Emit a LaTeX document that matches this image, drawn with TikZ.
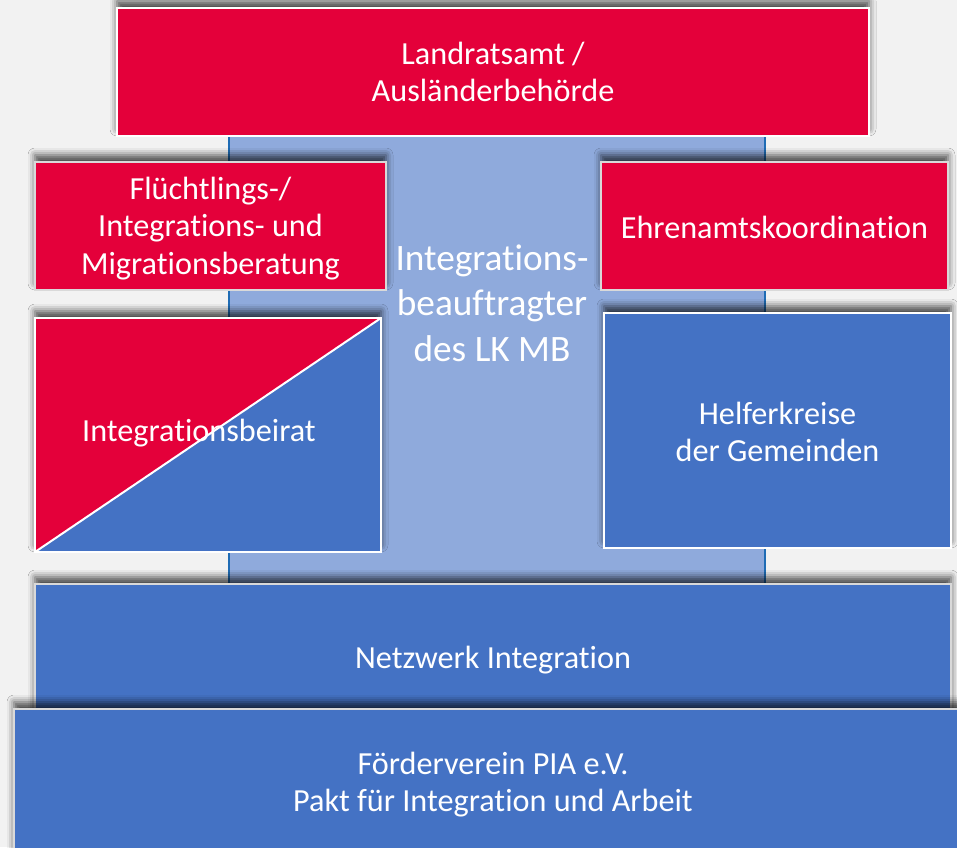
\documentclass[tikz,border=0pt]{standalone}
\usepackage{fontspec}
\setmainfont[Ligatures=CommonOff]{Carlito}
\usetikzlibrary{shadows.blur}
\definecolor{redbox}{HTML}{E4003A}
\definecolor{bluebox}{HTML}{4472C4}
\definecolor{lightbl}{HTML}{8FAADC}
\definecolor{bgc}{HTML}{F2F2F2}
\definecolor{edgebl}{HTML}{1F6CB5}
\definecolor{bordergray}{HTML}{D9D9D9}
\begin{document}
\begin{tikzpicture}[x=1pt,y=-1pt,
  box/.style={inner sep=0pt, outer sep=0pt, text=white, align=center,
    font=\fontsize{32.2}{37.5}\selectfont, line width=2pt},
  shad/.style={blur shadow={shadow xshift=0pt, shadow yshift=7pt,
    shadow blur radius=7pt, shadow opacity=70}},
  lbl/.style={text=white, align=center, inner sep=0pt,
    font=\fontsize{32.2}{37.5}\selectfont},
  midtext/.style={text=white, align=center, inner sep=0pt,
    font=\fontsize{37.3}{45.5}\selectfont}]
\path[fill=bgc] (0,0) rectangle (957,847);
\useasboundingbox (0,0) rectangle (957,847);
% central light-blue column
\node[fill=lightbl, draw=none, inner sep=0pt, outer sep=0pt,
  minimum width=536pt, minimum height=470pt] (mid) at (497,365) {};
\draw[edgebl, line width=2.5pt] (mid.north west) -- (mid.south west);
\draw[edgebl, line width=2.5pt] (mid.north east) -- (mid.south east);
% top box
\node[box, shad, fill=redbox, draw=white, minimum width=752pt,
  minimum height=128pt] (lra) at (493,72) {};
\node[lbl] (lratxt) at (493,72) {Landratsamt /\\Ausländerbehörde};
% left red box
\node[box, shad, fill=redbox, draw=bordergray, minimum width=351pt,
  minimum height=128pt] (fib) at (210.5,226) {};
\node[lbl] (fibtxt) at (210.5,228.5)
  {Flüchtlings-/\\Integrations- und\\Migrationsberatung};
% right red box
\node[box, shad, fill=redbox, draw=bordergray, minimum width=347pt,
  minimum height=128pt] (eak) at (774.5,226) {};
\node[lbl] (eaktxt) at (774.5,227.5) {Ehrenamtskoordination};
% Integrationsbeirat (split)
\node[box, shad, fill=bluebox, draw=white, minimum width=346pt,
  minimum height=234pt] (beirat) at (208,435) {};
\fill[redbox] (beirat.north west) -- (beirat.north east) -- (beirat.south west) -- cycle;
\draw[white, line width=2pt] (beirat.south west) -- (beirat.north east);
\draw[white, line width=2pt] (beirat.north west) rectangle (beirat.south east);
\node[lbl] (beirattxt) at (199,433) {Integrationsbeirat};
% Helferkreise
\node[box, shad, fill=bluebox, draw=white, minimum width=347pt,
  minimum height=235pt] (helfer) at (777.5,430.5) {};
\node[lbl] (helfertxt) at (777.5,432) {Helferkreise\\der Gemeinden};
% Netzwerk Integration
\node[box, shad, fill=bluebox, draw=bordergray, minimum width=916pt,
  minimum height=149pt] (netz) at (493,658.5) {};
\node[lbl] (netztxt) at (493,660) {Netzwerk Integration};
% Foerderverein
\node[box, shad, fill=bluebox, draw=bordergray, minimum width=958pt,
  minimum height=148pt] (pia) at (493,783) {};
\node[lbl] (piatxt) at (493,784.5)
  {Förderverein PIA e.V.\\Pakt für Integration und Arbeit};
% central text
\node[midtext] (ib) at (492,303) {Integrations-\\beauftragter\\des LK MB};
\end{tikzpicture}
\end{document}
